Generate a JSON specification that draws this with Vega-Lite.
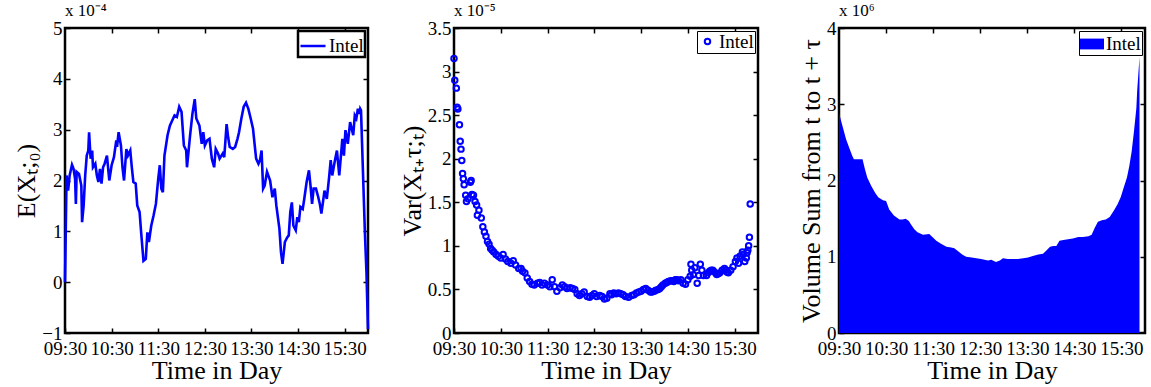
{
"$schema": "https://vega.github.io/schema/vega-lite/v6.json",
"padding": {"left": 12, "top": 0, "right": 0, "bottom": 0},
"config": {
  "view": {"stroke": "black", "strokeWidth": 2.5},
  "font": "Liberation Serif",
  "axis": {"labelFont": "Liberation Serif", "labelFontSize": 19, "labelColor": "black", "titleFont": "Liberation Serif", "titleFontSize": 26, "titleFontWeight": "normal", "titleColor": "black", "tickColor": "black", "tickWidth": 1.5, "tickSize": -5, "domain": false, "grid": false, "titlePadding": 2, "labelFlush": false, "labelOverlap": false, "minExtent": 0},
  "axisX": {"labelPadding": 11, "titlePadding": -1},
  "axisY": {"labelPadding": 8},
  "legend": {"strokeColor": "black", "fillColor": "white", "padding": 1, "labelFont": "Liberation Serif", "labelFontSize": 19, "labelColor": "black", "labelOffset": 2, "cornerRadius": 0, "orient": "top-right", "offset": 3},
  "title": {"font": "Liberation Serif", "fontSize": 17, "fontWeight": "normal", "anchor": "start", "frame": "group", "color": "black", "offset": -1}
},
"resolve": {"scale": {"color": "independent"}, "legend": {"color": "independent"}},
"hconcat": [
 {"spacing": 23, "resolve": {"scale": {"color": "independent"}, "legend": {"color": "independent"}}, "hconcat": [
  {
   "width": 303, "height": 305,
   "title": {"text": "x 10⁻⁴"},
   "data": {"format": {"parse": {"time": "date:'%H:%M'"}}, "values": [
    {"time":"09:30","mean":0e-4},{"time":"09:32","mean":2.1e-4},{"time":"09:34","mean":1.8e-4},{"time":"09:36","mean":2.1e-4},{"time":"09:39","mean":2.31e-4},{"time":"09:41","mean":2.23e-4},{"time":"09:43","mean":2.03e-4},{"time":"09:44","mean":1.54e-4},{"time":"09:45","mean":2.17e-4},{"time":"09:48","mean":2.13e-4},{"time":"09:51","mean":1.9e-4},{"time":"09:52","mean":1.18e-4},{"time":"09:54","mean":1.51e-4},{"time":"09:56","mean":2.1e-4},{"time":"09:58","mean":2.49e-4},
    {"time":"10:00","mean":2.59e-4},{"time":"10:01","mean":2.95e-4},{"time":"10:03","mean":2.43e-4},{"time":"10:05","mean":2.59e-4},{"time":"10:06","mean":2.26e-4},{"time":"10:09","mean":2.33e-4},{"time":"10:11","mean":2.1e-4},{"time":"10:13","mean":1.97e-4},{"time":"10:15","mean":2.23e-4},{"time":"10:17","mean":1.94e-4},{"time":"10:19","mean":2.26e-4},{"time":"10:21","mean":2.33e-4},{"time":"10:24","mean":2.49e-4},{"time":"10:27","mean":2.0e-4},{"time":"10:30","mean":2.3e-4},{"time":"10:33","mean":2.46e-4},{"time":"10:36","mean":2.79e-4},{"time":"10:37","mean":2.66e-4},{"time":"10:39","mean":2.95e-4},{"time":"10:42","mean":2.69e-4},{"time":"10:44","mean":2.26e-4},{"time":"10:46","mean":2.0e-4},{"time":"10:49","mean":2.62e-4},{"time":"10:51","mean":2.49e-4},{"time":"10:54","mean":2.59e-4},{"time":"10:56","mean":2.26e-4},{"time":"10:58","mean":1.97e-4},
    {"time":"11:01","mean":1.94e-4},{"time":"11:03","mean":1.51e-4},{"time":"11:06","mean":1.38e-4},{"time":"11:08","mean":0.98e-4},{"time":"11:11","mean":0.42e-4},{"time":"11:14","mean":0.46e-4},{"time":"11:16","mean":0.98e-4},{"time":"11:18","mean":0.79e-4},{"time":"11:21","mean":1.11e-4},{"time":"11:24","mean":1.31e-4},{"time":"11:27","mean":1.54e-4},{"time":"11:30","mean":2.03e-4},{"time":"11:32","mean":2.3e-4},{"time":"11:34","mean":1.84e-4},{"time":"11:36","mean":1.77e-4},{"time":"11:38","mean":2.49e-4},{"time":"11:42","mean":2.89e-4},{"time":"11:45","mean":3.08e-4},{"time":"11:48","mean":3.18e-4},{"time":"11:51","mean":3.28e-4},{"time":"11:54","mean":3.25e-4},{"time":"11:57","mean":3.45e-4},
    {"time":"12:00","mean":3.35e-4},{"time":"12:03","mean":2.69e-4},{"time":"12:06","mean":2.59e-4},{"time":"12:07","mean":2.26e-4},{"time":"12:11","mean":2.89e-4},{"time":"12:14","mean":3.31e-4},{"time":"12:17","mean":3.6e-4},{"time":"12:19","mean":3.22e-4},{"time":"12:23","mean":3.08e-4},{"time":"12:26","mean":2.72e-4},{"time":"12:28","mean":2.95e-4},{"time":"12:30","mean":2.69e-4},{"time":"12:33","mean":2.79e-4},{"time":"12:36","mean":2.82e-4},{"time":"12:39","mean":2.43e-4},{"time":"12:42","mean":2.26e-4},{"time":"12:44","mean":2.62e-4},{"time":"12:47","mean":2.53e-4},{"time":"12:49","mean":2.43e-4},{"time":"12:53","mean":2.53e-4},{"time":"12:55","mean":2.46e-4},{"time":"12:58","mean":3.11e-4},
    {"time":"13:00","mean":2.85e-4},{"time":"13:02","mean":2.66e-4},{"time":"13:06","mean":2.62e-4},{"time":"13:09","mean":2.66e-4},{"time":"13:12","mean":2.82e-4},{"time":"13:14","mean":2.95e-4},{"time":"13:17","mean":3.22e-4},{"time":"13:20","mean":3.45e-4},{"time":"13:23","mean":3.53e-4},{"time":"13:26","mean":3.41e-4},{"time":"13:29","mean":3.22e-4},{"time":"13:32","mean":3.02e-4},{"time":"13:34","mean":2.72e-4},{"time":"13:36","mean":2.43e-4},{"time":"13:39","mean":2.33e-4},{"time":"13:41","mean":2.4e-4},{"time":"13:43","mean":2.59e-4},{"time":"13:45","mean":1.84e-4},{"time":"13:47","mean":1.9e-4},{"time":"13:50","mean":2.17e-4},{"time":"13:54","mean":2.0e-4},{"time":"13:57","mean":1.67e-4},
    {"time":"14:00","mean":1.84e-4},{"time":"14:02","mean":1.51e-4},{"time":"14:06","mean":1.05e-4},{"time":"14:08","mean":0.59e-4},{"time":"14:10","mean":0.36e-4},{"time":"14:13","mean":0.79e-4},{"time":"14:16","mean":0.88e-4},{"time":"14:18","mean":0.92e-4},{"time":"14:20","mean":1.38e-4},{"time":"14:22","mean":1.57e-4},{"time":"14:24","mean":1.11e-4},{"time":"14:27","mean":1.02e-4},{"time":"14:29","mean":1.28e-4},{"time":"14:31","mean":1.18e-4},{"time":"14:33","mean":1.48e-4},{"time":"14:36","mean":1.44e-4},{"time":"14:38","mean":1.64e-4},{"time":"14:41","mean":1.97e-4},{"time":"14:44","mean":2.2e-4},{"time":"14:46","mean":1.9e-4},{"time":"14:48","mean":1.54e-4},{"time":"14:50","mean":1.84e-4},{"time":"14:53","mean":1.84e-4},{"time":"14:56","mean":1.67e-4},{"time":"14:58","mean":1.54e-4},
    {"time":"15:00","mean":1.35e-4},{"time":"15:02","mean":1.57e-4},{"time":"15:04","mean":1.8e-4},{"time":"15:07","mean":1.64e-4},{"time":"15:10","mean":2.07e-4},{"time":"15:12","mean":2.4e-4},{"time":"15:14","mean":2.1e-4},{"time":"15:17","mean":2.36e-4},{"time":"15:20","mean":2.59e-4},{"time":"15:23","mean":2.1e-4},{"time":"15:25","mean":2.46e-4},{"time":"15:27","mean":2.82e-4},{"time":"15:29","mean":2.49e-4},{"time":"15:31","mean":2.99e-4},{"time":"15:34","mean":2.72e-4},{"time":"15:37","mean":3.15e-4},{"time":"15:39","mean":3.02e-4},{"time":"15:41","mean":2.89e-4},{"time":"15:43","mean":3.28e-4},{"time":"15:45","mean":3.22e-4},{"time":"15:47","mean":3.41e-4},{"time":"15:49","mean":3.31e-4},{"time":"15:50","mean":3.41e-4},{"time":"15:51","mean":3.38e-4},{"time":"15:56","mean":0.98e-4},{"time":"15:58","mean":0.2e-4},{"time":"16:00","mean":-0.92e-4}
   ]},
   "layer": [
    {"mark": {"type": "line", "color": "#0000ff", "strokeWidth": 2.6},
     "encoding": {
      "x": {"field": "time", "type": "temporal", "scale": {"nice": false, "domain": [{"year":1900,"month":1,"date":1,"hours":9,"minutes":30},{"year":1900,"month":1,"date":1,"hours":16,"minutes":0}]},
            "axis": {"title": "Time in Day", "format": "%H:%M", "values": [{"year":1900,"month":1,"date":1,"hours":9,"minutes":30},{"year":1900,"month":1,"date":1,"hours":10,"minutes":30},{"year":1900,"month":1,"date":1,"hours":11,"minutes":30},{"year":1900,"month":1,"date":1,"hours":12,"minutes":30},{"year":1900,"month":1,"date":1,"hours":13,"minutes":30},{"year":1900,"month":1,"date":1,"hours":14,"minutes":30},{"year":1900,"month":1,"date":1,"hours":15,"minutes":30}]}},
      "y": {"field": "mean", "type": "quantitative", "scale": {"domain": [-0.0001, 0.0005], "nice": false},
            "axis": {"title": "E(Xₜ;₀)", "values": [-0.0001, 0, 0.0001, 0.0002, 0.0003, 0.0004, 0.0005], "labelExpr": "format(datum.value*1e4, '~g')"}},
      "color": {"datum": "Intel", "scale": {"range": ["#0000ff"]}, "legend": {"title": null, "orient": "top-right", "symbolType": "stroke", "symbolSize": 625, "symbolStrokeWidth": 2.5, "encode": {"legend": {"update": {"strokeWidth": {"value": 2.5}}}}}}
     }},
    {"mark": {"type": "line", "opacity": 0},
     "encoding": {
      "x": {"field": "time", "type": "temporal", "axis": {"orient": "top", "labels": false, "labelPadding": 0, "maxExtent": 0, "title": null, "values": [{"year":1900,"month":1,"date":1,"hours":10,"minutes":30},{"year":1900,"month":1,"date":1,"hours":11,"minutes":30},{"year":1900,"month":1,"date":1,"hours":12,"minutes":30},{"year":1900,"month":1,"date":1,"hours":13,"minutes":30},{"year":1900,"month":1,"date":1,"hours":14,"minutes":30},{"year":1900,"month":1,"date":1,"hours":15,"minutes":30}]}},
      "y": {"field": "mean", "type": "quantitative", "axis": {"orient": "right", "labels": false, "labelPadding": 0, "maxExtent": 0, "title": null, "values": [0, 0.0001, 0.0002, 0.0003, 0.0004]}}
     }}
   ],
   "resolve": {"axis": {"x": "independent", "y": "independent"}}
  },
  {
   "width": 304, "height": 305,
   "title": {"text": "x 10⁻⁵"},
   "data": {"format": {"parse": {"time": "date:'%H:%M'"}}, "values": [
    {"time":"09:30","variance":3.15e-5},{"time":"09:31","variance":2.9e-5},{"time":"09:33","variance":2.81e-5},{"time":"09:34","variance":2.59e-5},{"time":"09:35","variance":2.57e-5},{"time":"09:37","variance":2.39e-5},{"time":"09:38","variance":2.2e-5},{"time":"09:39","variance":2.11e-5},{"time":"09:40","variance":1.98e-5},{"time":"09:41","variance":1.83e-5},{"time":"09:42","variance":1.77e-5},{"time":"09:43","variance":1.7e-5},{"time":"09:45","variance":1.58e-5},{"time":"09:46","variance":1.51e-5},{"time":"09:48","variance":1.54e-5},{"time":"09:51","variance":1.73e-5},{"time":"09:52","variance":1.75e-5},{"time":"09:53","variance":1.59e-5},{"time":"09:55","variance":1.58e-5},{"time":"09:57","variance":1.51e-5},{"time":"09:59","variance":1.47e-5},
    {"time":"10:00","variance":1.35e-5},{"time":"10:02","variance":1.41e-5},{"time":"10:05","variance":1.32e-5},{"time":"10:07","variance":1.22e-5},{"time":"10:09","variance":1.16e-5},{"time":"10:11","variance":1.11e-5},{"time":"10:13","variance":1.05e-5},{"time":"10:15","variance":1.02e-5},{"time":"10:17","variance":0.97e-5},{"time":"10:19","variance":0.95e-5},{"time":"10:21","variance":0.93e-5},{"time":"10:24","variance":0.9e-5},{"time":"10:27","variance":0.88e-5},{"time":"10:30","variance":0.86e-5},{"time":"10:33","variance":0.9e-5},{"time":"10:36","variance":0.85e-5},{"time":"10:39","variance":0.82e-5},{"time":"10:43","variance":0.8e-5},{"time":"10:46","variance":0.83e-5},{"time":"10:49","variance":0.78e-5},{"time":"10:53","variance":0.74e-5},{"time":"10:56","variance":0.74e-5},{"time":"10:58","variance":0.71e-5},
    {"time":"11:01","variance":0.69e-5},{"time":"11:04","variance":0.63e-5},{"time":"11:07","variance":0.59e-5},{"time":"11:10","variance":0.56e-5},{"time":"11:13","variance":0.55e-5},{"time":"11:17","variance":0.57e-5},{"time":"11:20","variance":0.58e-5},{"time":"11:23","variance":0.55e-5},{"time":"11:26","variance":0.57e-5},{"time":"11:30","variance":0.55e-5},{"time":"11:33","variance":0.53e-5},{"time":"11:36","variance":0.61e-5},{"time":"11:39","variance":0.53e-5},{"time":"11:42","variance":0.48e-5},{"time":"11:46","variance":0.52e-5},{"time":"11:49","variance":0.55e-5},{"time":"11:52","variance":0.53e-5},{"time":"11:55","variance":0.51e-5},{"time":"11:59","variance":0.52e-5},
    {"time":"12:02","variance":0.51e-5},{"time":"12:05","variance":0.5e-5},{"time":"12:08","variance":0.45e-5},{"time":"12:11","variance":0.43e-5},{"time":"12:14","variance":0.45e-5},{"time":"12:17","variance":0.47e-5},{"time":"12:21","variance":0.42e-5},{"time":"12:24","variance":0.41e-5},{"time":"12:27","variance":0.43e-5},{"time":"12:30","variance":0.45e-5},{"time":"12:33","variance":0.42e-5},{"time":"12:37","variance":0.43e-5},{"time":"12:40","variance":0.42e-5},{"time":"12:43","variance":0.39e-5},{"time":"12:46","variance":0.4e-5},{"time":"12:50","variance":0.45e-5},{"time":"12:52","variance":0.44e-5},{"time":"12:55","variance":0.46e-5},{"time":"12:58","variance":0.45e-5},
    {"time":"13:01","variance":0.46e-5},{"time":"13:04","variance":0.45e-5},{"time":"13:07","variance":0.44e-5},{"time":"13:10","variance":0.42e-5},{"time":"13:14","variance":0.41e-5},{"time":"13:18","variance":0.43e-5},{"time":"13:21","variance":0.44e-5},{"time":"13:24","variance":0.46e-5},{"time":"13:27","variance":0.47e-5},{"time":"13:30","variance":0.48e-5},{"time":"13:33","variance":0.5e-5},{"time":"13:36","variance":0.51e-5},{"time":"13:39","variance":0.49e-5},{"time":"13:42","variance":0.47e-5},{"time":"13:44","variance":0.47e-5},{"time":"13:47","variance":0.48e-5},{"time":"13:49","variance":0.49e-5},{"time":"13:52","variance":0.5e-5},{"time":"13:54","variance":0.51e-5},{"time":"13:56","variance":0.53e-5},{"time":"13:58","variance":0.55e-5},
    {"time":"14:01","variance":0.57e-5},{"time":"14:03","variance":0.58e-5},{"time":"14:05","variance":0.59e-5},{"time":"14:08","variance":0.6e-5},{"time":"14:10","variance":0.6e-5},{"time":"14:12","variance":0.59e-5},{"time":"14:14","variance":0.61e-5},{"time":"14:16","variance":0.61e-5},{"time":"14:18","variance":0.6e-5},{"time":"14:21","variance":0.61e-5},{"time":"14:24","variance":0.57e-5},{"time":"14:27","variance":0.56e-5},{"time":"14:30","variance":0.61e-5},{"time":"14:33","variance":0.65e-5},{"time":"14:34","variance":0.79e-5},{"time":"14:35","variance":0.72e-5},{"time":"14:37","variance":0.67e-5},{"time":"14:39","variance":0.75e-5},{"time":"14:42","variance":0.57e-5},{"time":"14:44","variance":0.66e-5},{"time":"14:46","variance":0.79e-5},{"time":"14:48","variance":0.72e-5},{"time":"14:50","variance":0.66e-5},{"time":"14:54","variance":0.66e-5},{"time":"14:56","variance":0.69e-5},{"time":"14:58","variance":0.71e-5},
    {"time":"15:00","variance":0.72e-5},{"time":"15:02","variance":0.72e-5},{"time":"15:04","variance":0.7e-5},{"time":"15:07","variance":0.67e-5},{"time":"15:09","variance":0.68e-5},{"time":"15:11","variance":0.69e-5},{"time":"15:14","variance":0.72e-5},{"time":"15:17","variance":0.74e-5},{"time":"15:19","variance":0.72e-5},{"time":"15:20","variance":0.7e-5},{"time":"15:22","variance":0.69e-5},{"time":"15:25","variance":0.72e-5},{"time":"15:28","variance":0.76e-5},{"time":"15:31","variance":0.82e-5},{"time":"15:33","variance":0.86e-5},{"time":"15:35","variance":0.8e-5},{"time":"15:37","variance":0.88e-5},{"time":"15:40","variance":0.93e-5},{"time":"15:41","variance":0.9e-5},{"time":"15:43","variance":0.82e-5},{"time":"15:45","variance":0.86e-5},{"time":"15:46","variance":0.92e-5},{"time":"15:47","variance":0.95e-5},{"time":"15:48","variance":1.0e-5},{"time":"15:49","variance":1.1e-5},{"time":"15:50","variance":1.48e-5}
   ]},
   "layer": [
    {"mark": {"type": "point", "filled": false, "color": "#0000ff", "size": 30, "strokeWidth": 2, "opacity": 1},
     "encoding": {
      "x": {"field": "time", "type": "temporal", "scale": {"nice": false, "domain": [{"year":1900,"month":1,"date":1,"hours":9,"minutes":30},{"year":1900,"month":1,"date":1,"hours":16,"minutes":0}]},
            "axis": {"title": "Time in Day", "format": "%H:%M", "values": [{"year":1900,"month":1,"date":1,"hours":9,"minutes":30},{"year":1900,"month":1,"date":1,"hours":10,"minutes":30},{"year":1900,"month":1,"date":1,"hours":11,"minutes":30},{"year":1900,"month":1,"date":1,"hours":12,"minutes":30},{"year":1900,"month":1,"date":1,"hours":13,"minutes":30},{"year":1900,"month":1,"date":1,"hours":14,"minutes":30},{"year":1900,"month":1,"date":1,"hours":15,"minutes":30}]}},
      "y": {"field": "variance", "type": "quantitative", "scale": {"domain": [0, 0.000035], "nice": false},
            "axis": {"title": "Var(Xₜ₊τ;ₜ)", "values": [0, 0.000005, 0.00001, 0.000015, 0.00002, 0.000025, 0.00003, 0.000035], "labelExpr": "format(datum.value*1e5, '~g')"}},
      "color": {"datum": "Intel", "scale": {"range": ["#0000ff"]}, "legend": {"title": null, "orient": "top-right", "symbolType": "circle", "symbolSize": 30, "symbolStrokeWidth": 2, "symbolFillColor": "white", "encode": {"legend": {"update": {"strokeWidth": {"value": 2.5}}}}}}
     }},
    {"mark": {"type": "line", "opacity": 0},
     "encoding": {
      "x": {"field": "time", "type": "temporal", "axis": {"orient": "top", "labels": false, "labelPadding": 0, "maxExtent": 0, "title": null, "values": [{"year":1900,"month":1,"date":1,"hours":10,"minutes":30},{"year":1900,"month":1,"date":1,"hours":11,"minutes":30},{"year":1900,"month":1,"date":1,"hours":12,"minutes":30},{"year":1900,"month":1,"date":1,"hours":13,"minutes":30},{"year":1900,"month":1,"date":1,"hours":14,"minutes":30},{"year":1900,"month":1,"date":1,"hours":15,"minutes":30}]}},
      "y": {"field": "variance", "type": "quantitative", "axis": {"orient": "right", "labels": false, "labelPadding": 0, "maxExtent": 0, "title": null, "values": [0.000005, 0.00001, 0.000015, 0.00002, 0.000025, 0.00003]}}
     }}
   ],
   "resolve": {"axis": {"x": "independent", "y": "independent"}}
  }
 ]},
 {
  "width": 306, "height": 305,
  "title": {"text": "x 10⁶"},
  "data": {"format": {"parse": {"time": "date:'%H:%M'"}}, "values": [
   {"time":"09:30","volume":2.89e6},{"time":"09:34","volume":2.73e6},{"time":"09:39","volume":2.54e6},{"time":"09:43","volume":2.43e6},{"time":"09:47","volume":2.32e6},{"time":"09:49","volume":2.28e6},
   {"time":"10:00","volume":2.28e6},{"time":"10:03","volume":2.15e6},{"time":"10:06","volume":2.04e6},{"time":"10:11","volume":1.93e6},{"time":"10:16","volume":1.84e6},{"time":"10:20","volume":1.78e6},{"time":"10:26","volume":1.74e6},{"time":"10:30","volume":1.73e6},{"time":"10:34","volume":1.62e6},{"time":"10:40","volume":1.54e6},{"time":"10:47","volume":1.49e6},{"time":"10:51","volume":1.49e6},{"time":"10:55","volume":1.5e6},{"time":"10:59","volume":1.47e6},
   {"time":"11:02","volume":1.42e6},{"time":"11:06","volume":1.36e6},{"time":"11:10","volume":1.32e6},{"time":"11:17","volume":1.29e6},{"time":"11:25","volume":1.3e6},{"time":"11:29","volume":1.26e6},{"time":"11:34","volume":1.21e6},{"time":"11:40","volume":1.17e6},{"time":"11:47","volume":1.13e6},{"time":"11:53","volume":1.12e6},{"time":"11:57","volume":1.11e6},
   {"time":"12:01","volume":1.08e6},{"time":"12:07","volume":1.03e6},{"time":"12:12","volume":1.0e6},{"time":"12:19","volume":0.99e6},{"time":"12:25","volume":0.98e6},{"time":"12:31","volume":0.97e6},{"time":"12:40","volume":0.95e6},{"time":"12:44","volume":0.96e6},{"time":"12:50","volume":0.93e6},{"time":"12:55","volume":0.95e6},{"time":"12:59","volume":0.98e6},
   {"time":"13:05","volume":0.97e6},{"time":"13:12","volume":0.97e6},{"time":"13:18","volume":0.97e6},{"time":"13:25","volume":0.98e6},{"time":"13:31","volume":0.99e6},{"time":"13:37","volume":1.01e6},{"time":"13:44","volume":1.03e6},{"time":"13:50","volume":1.04e6},{"time":"13:54","volume":1.08e6},{"time":"13:59","volume":1.13e6},
   {"time":"14:03","volume":1.14e6},{"time":"14:07","volume":1.14e6},{"time":"14:11","volume":1.21e6},{"time":"14:16","volume":1.22e6},{"time":"14:22","volume":1.23e6},{"time":"14:28","volume":1.24e6},{"time":"14:35","volume":1.26e6},{"time":"14:41","volume":1.26e6},{"time":"14:48","volume":1.27e6},{"time":"14:52","volume":1.29e6},{"time":"14:56","volume":1.38e6},
   {"time":"15:00","volume":1.46e6},{"time":"15:05","volume":1.48e6},{"time":"15:10","volume":1.49e6},{"time":"15:15","volume":1.52e6},{"time":"15:20","volume":1.6e6},{"time":"15:25","volume":1.69e6},{"time":"15:29","volume":1.78e6},{"time":"15:33","volume":1.91e6},{"time":"15:37","volume":2.04e6},{"time":"15:40","volume":2.19e6},{"time":"15:43","volume":2.38e6},{"time":"15:46","volume":2.65e6},{"time":"15:49","volume":2.95e6},{"time":"15:50","volume":3.17e6},{"time":"15:52","volume":3.47e6},{"time":"15:53","volume":3.62e6}
  ]},
  "layer": [
   {"mark": {"type": "area", "color": "#0000ff", "opacity": 1},
    "encoding": {
     "x": {"field": "time", "type": "temporal", "scale": {"nice": false, "domain": [{"year":1900,"month":1,"date":1,"hours":9,"minutes":30},{"year":1900,"month":1,"date":1,"hours":16,"minutes":0}]},
           "axis": {"title": "Time in Day", "format": "%H:%M", "values": [{"year":1900,"month":1,"date":1,"hours":9,"minutes":30},{"year":1900,"month":1,"date":1,"hours":10,"minutes":30},{"year":1900,"month":1,"date":1,"hours":11,"minutes":30},{"year":1900,"month":1,"date":1,"hours":12,"minutes":30},{"year":1900,"month":1,"date":1,"hours":13,"minutes":30},{"year":1900,"month":1,"date":1,"hours":14,"minutes":30},{"year":1900,"month":1,"date":1,"hours":15,"minutes":30}]}},
     "y": {"field": "volume", "type": "quantitative", "scale": {"domain": [0, 4000000], "nice": false},
           "axis": {"title": "Volume Sum from t to t + τ", "values": [0, 1000000, 2000000, 3000000, 4000000], "labelExpr": "format(datum.value/1e6, '~g')"}},
     "color": {"datum": "Intel", "scale": {"range": ["#0000ff"]}, "legend": {"title": null, "orient": "top-right", "symbolType": "M-1,-0.45H1V0.45H-1Z", "symbolSize": 576, "symbolStrokeWidth": 0, "encode": {"legend": {"update": {"strokeWidth": {"value": 2.5}}}}}}
    }},
   {"mark": {"type": "line", "opacity": 0},
    "encoding": {
     "x": {"field": "time", "type": "temporal", "axis": {"orient": "top", "labels": false, "labelPadding": 0, "maxExtent": 0, "title": null, "values": [{"year":1900,"month":1,"date":1,"hours":10,"minutes":30},{"year":1900,"month":1,"date":1,"hours":11,"minutes":30},{"year":1900,"month":1,"date":1,"hours":12,"minutes":30},{"year":1900,"month":1,"date":1,"hours":13,"minutes":30},{"year":1900,"month":1,"date":1,"hours":14,"minutes":30},{"year":1900,"month":1,"date":1,"hours":15,"minutes":30}]}},
     "y": {"field": "volume", "type": "quantitative", "axis": {"orient": "right", "labels": false, "labelPadding": 0, "maxExtent": 0, "title": null, "values": [1000000, 2000000, 3000000]}}
    }}
  ],
  "resolve": {"axis": {"x": "independent", "y": "independent"}}
 }
],
"spacing": 37
}
